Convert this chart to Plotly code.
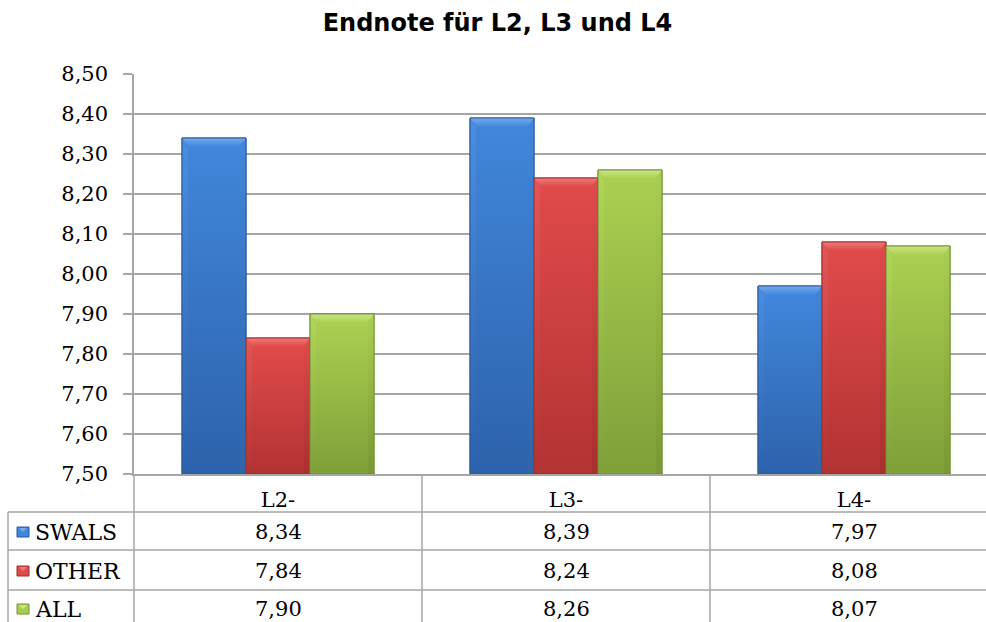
import plotly.graph_objects as go

# ---- data -------------------------------------------------------------
categories = ["L2-", "L3-", "L4-"]
series_names = ["SWALS", "OTHER", "ALL"]
swals_values = [8.34, 8.39, 7.97]
other_values = [7.84, 8.24, 8.08]
all_values = [7.90, 8.26, 8.07]
y_tick_values = [7.50, 7.60, 7.70, 7.80, 7.90, 8.00, 8.10, 8.20, 8.30, 8.40, 8.50]

series_values = [swals_values, other_values, all_values]

# ---- styling ----------------------------------------------------------
palettes = [
    dict(top="#4086da", bottom="#2d62ab", bevel="#74aaee", side_l="#4a8ee2",
         side_r="#2f64a8", line="#2c5998"),
    dict(top="#e04a4a", bottom="#b33333", bevel="#ee7a7a", side_l="#e25656",
         side_r="#a92f2f", line="#9f2e2e"),
    dict(top="#a9cf50", bottom="#7f9f39", bevel="#cbe684", side_l="#b2d65c",
         side_r="#789833", line="#748f33"),
]

SERIF = "DejaVu Serif"
TEXT_SIZE = 21
GRID = "#a6a6a6"

W, H = 986, 622
L, R, T, B = 134, 0, 74, 148
plot_w = W - L - R
plot_h = H - T - B
slot_px = 288                     # pixel width of one category slot
x_range = [-0.5, -0.5 + plot_w / slot_px]
y_range = [7.5, 8.5]

bargap = 1 / 3
bar_w = (1 - bargap) / len(series_names)
dx = 6 / slot_px                                  # bevel width in x units
dy = 9 / plot_h * (y_range[1] - y_range[0])       # bevel height in y units


def px(xp):
    return (xp - L) / plot_w


def py(yp):
    return (H - B - yp) / plot_h


def fmt(v):
    return f"{v:.2f}".replace(".", ",")


text_font = dict(family=SERIF, size=TEXT_SIZE, color="#000")

fig = go.Figure()
cat_pos = list(range(len(categories)))

# bars
for s, (name, vals, pal) in enumerate(zip(series_names, series_values, palettes)):
    fig.add_trace(go.Bar(
        x=cat_pos, y=vals, name=name,
        marker=dict(color=pal["bottom"], line=dict(color=pal["line"], width=1)),
        showlegend=False,
        hovertemplate="%{y:.2f}<extra>" + name + "</extra>",
    ))

# bevelled faces drawn on top of each bar, from the same values
base = y_range[0]
for s, (vals, pal) in enumerate(zip(series_values, palettes)):
    for i, v in enumerate(vals):
        c = i - (1 - bargap) / 2 + (s + 0.5) * bar_w
        x0, x1 = c - bar_w / 2, c + bar_w / 2
        pieces = [
            # front face
            ([x0 + dx, x1 - dx, x1 - dx, x0 + dx, x0 + dx],
             [base, base, v - dy, v - dy, base], pal["bottom"], pal["top"]),
            # left bevel
            ([x0, x0 + dx, x0 + dx, x0, x0],
             [v, v - dy, base, base, v], pal["bottom"], pal["side_l"]),
            # right bevel
            ([x1, x1, x1 - dx, x1 - dx, x1],
             [v, base, base, v - dy, v], pal["side_r"], pal["top"]),
            # top bevel
            ([x0, x1, x1 - dx, x0 + dx, x0],
             [v, v, v - dy, v - dy, v], pal["top"], pal["bevel"]),
        ]
        for xs, ys, c_lo, c_hi in pieces:
            fig.add_trace(go.Scatter(
                x=xs, y=ys, mode="none", fill="toself",
                fillgradient=dict(type="vertical",
                                  colorscale=[[0, c_lo], [1, c_hi]]),
                hoverinfo="skip", showlegend=False,
            ))
        # thin outline around the whole bar
        fig.add_trace(go.Scatter(
            x=[x0, x1, x1, x0, x0], y=[base, base, v, v, base],
            mode="lines", line=dict(color=pal["line"], width=1),
            hoverinfo="skip", showlegend=False,
        ))

# ---- data table below the plot ---------------------------------------
shapes = []
line_style = dict(color=GRID, width=1.5)
row_lines = [512, 550, 590]
for yp in row_lines:
    shapes.append(dict(type="line", xref="paper", yref="paper",
                       x0=px(8), x1=px(W), y0=py(yp), y1=py(yp), line=line_style))
shapes.append(dict(type="line", xref="paper", yref="paper",
                   x0=px(8), x1=px(8), y0=py(512), y1=py(H), line=line_style))
for xp in [L, L + slot_px, L + 2 * slot_px]:
    shapes.append(dict(type="line", xref="paper", yref="paper",
                       x0=px(xp), x1=px(xp), y0=py(H - B), y1=py(H), line=line_style))

annotations = []
row_centers = [532, 571, 609]
for s, (name, vals, pal) in enumerate(zip(series_names, series_values, palettes)):
    rc = row_centers[s]
    # legend swatch
    shapes.append(dict(type="rect", xref="paper", yref="paper",
                       x0=px(17), x1=px(29), y0=py(rc + 5), y1=py(rc - 5),
                       fillcolor=pal["top"], line=dict(color=pal["line"], width=1)))
    shapes.append(dict(type="path", xref="paper", yref="paper",
                       path=f"M {px(19)},{py(rc - 4)} L {px(27)},{py(rc - 4)} "
                            f"L {px(23)},{py(rc)} Z",
                       fillcolor=pal["bevel"], line=dict(width=0)))
    annotations.append(dict(xref="paper", yref="paper", x=px(33), y=py(rc),
                            xanchor="left", yanchor="middle", showarrow=False,
                            text=name, font=dict(family=SERIF, size=22, color="#000")))
    for i, v in enumerate(vals):
        annotations.append(dict(xref="x", yref="paper", x=cat_pos[i], y=py(rc),
                                xanchor="center", yanchor="middle", showarrow=False,
                                text=fmt(v), font=text_font))

fig.update_layout(
    width=W, height=H,
    margin=dict(l=L, r=R, t=T, b=B, pad=0),
    paper_bgcolor="white", plot_bgcolor="white",
    separators=",.",
    barmode="group", bargap=bargap, bargroupgap=0,
    title=dict(text="Endnote für L2, L3 und L4", xref="container", yref="container",
               x=497.5 / W, y=1 - 23 / H, xanchor="center", yanchor="middle",
               font=dict(family="DejaVu Sans", size=24, weight="bold", color="#000")),
    xaxis=dict(range=x_range, tickmode="array", tickvals=cat_pos, ticktext=categories,
               ticks="", showgrid=False, zeroline=False,
               showline=True, linecolor=GRID, linewidth=1.5,
               ticklabelstandoff=6,
               tickfont=text_font),
    yaxis=dict(range=y_range, tickmode="array", tickvals=y_tick_values,
               tickformat=".2f", ticks="outside", ticklen=9, tickcolor=GRID, tickwidth=1.5,
               showgrid=True, gridcolor=GRID, gridwidth=1.5, zeroline=False,
               showline=True, linecolor=GRID, linewidth=1.5,
               ticklabelstandoff=11,
               tickfont=text_font),
    shapes=shapes, annotations=annotations,
    showlegend=False,
)

fig.write_html("out.html")
